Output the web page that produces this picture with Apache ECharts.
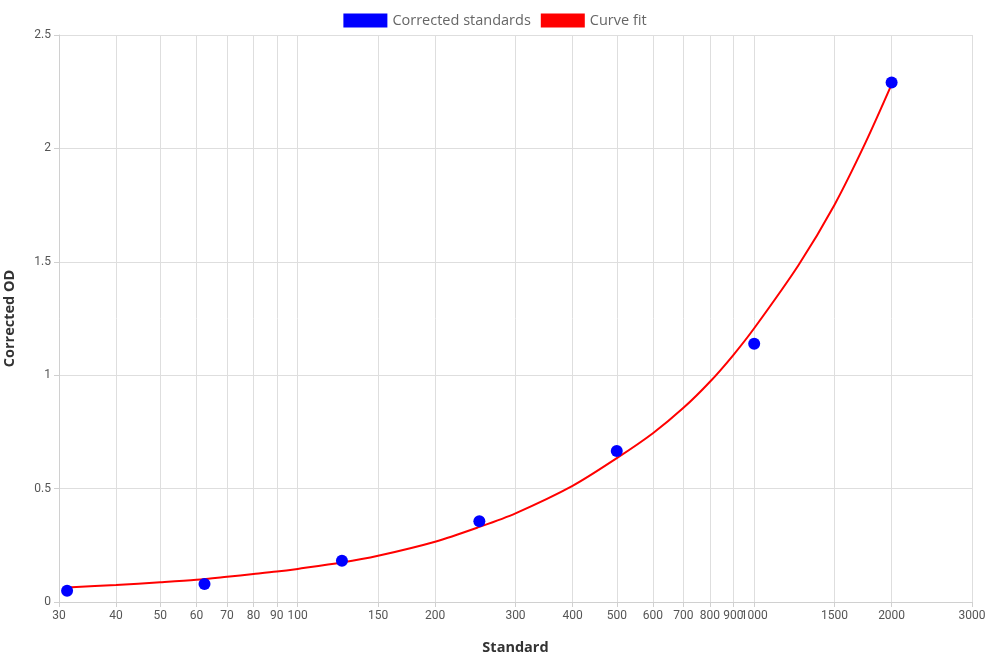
<!DOCTYPE html>
<html>
<head>
<meta charset="utf-8">
<script src="https://cdn.jsdelivr.net/npm/echarts@6/dist/echarts.min.js"></script>
<style>html,body{margin:0;padding:0;background:#fff}#c{width:990px;height:660px}</style>
</head>
<body>
<div id="c"></div>
<script>
const standards = [31.25, 62.5, 125, 250, 500, 1000, 2000];
const correctedOD = [0.050, 0.079, 0.182, 0.356, 0.666, 1.139, 2.291];
const fitX = [31.25, 40, 50, 60, 70, 80, 90, 100, 125, 150, 200, 250, 300, 400, 500, 600, 700, 800, 900, 1000, 1250, 1500, 1750, 2000];
const fitY = [0.064, 0.075, 0.087, 0.098, 0.111, 0.123, 0.134, 0.146, 0.174, 0.204, 0.266, 0.331, 0.391, 0.512, 0.634, 0.744, 0.856, 0.971, 1.089, 1.207, 1.485, 1.752, 2.022, 2.282];
const xTicks = [30, 40, 50, 60, 70, 80, 90, 100, 150, 200, 300, 400, 500, 600, 700, 800, 900, 1000, 1500, 2000, 3000];

const chart = echarts.init(document.getElementById('c'));
chart.setOption({
  animation: false,
  legend: {
    top: 8, left: 'center',
    itemWidth: 44, itemHeight: 14, itemGap: 10,
    textStyle: { color: '#666', fontSize: 14.5, fontFamily: 'Open Sans' },
    data: [
      { name: 'Corrected standards', icon: 'rect', itemStyle: { color: '#0000ff', opacity: 1 } },
      { name: 'Curve fit', icon: 'rect', itemStyle: { color: '#ff0000', opacity: 1 } }
    ]
  },
  grid: { left: 59, right: 18, top: 35, bottom: 58, containLabel: false, outerBoundsMode: 'none' },
  xAxis: {
    type: 'log', min: 30, max: 3000, logBase: 10,
    name: 'Standard', nameLocation: 'middle', nameGap: 38,
    nameTextStyle: { color: '#333', fontWeight: 'bold', fontSize: 14.5, fontFamily: 'Open Sans' },
    axisLine: { show: true, lineStyle: { color: '#d0d0d0' } },
    axisTick: { show: true, length: 5, lineStyle: { color: '#d0d0d0' }, customValues: xTicks },
    axisLabel: { customValues: xTicks, color: '#555', fontSize: 12, fontFamily: 'Roboto', margin: 8, formatter: v => String(Math.round(v)) },
    splitLine: { show: true, lineStyle: { color: '#dedede' } },
    minorTick: { show: false }
  },
  yAxis: {
    type: 'value', min: 0, max: 2.5, interval: 0.5,
    name: 'Corrected OD', nameLocation: 'middle', nameGap: 42, nameRotate: 90,
    nameTextStyle: { color: '#333', fontWeight: 'bold', fontSize: 14.5, fontFamily: 'Open Sans' },
    axisLine: { show: true, lineStyle: { color: '#d0d0d0' } },
    axisTick: { show: true, length: 5, lineStyle: { color: '#d0d0d0' } },
    axisLabel: { color: '#555', fontSize: 12, fontFamily: 'Roboto', margin: 8 },
    splitLine: { show: true, lineStyle: { color: '#dedede' } }
  },
  series: [
    {
      name: 'Curve fit', type: 'line', smooth: 0.3, showSymbol: false,
      lineStyle: { color: '#ff0000', width: 2 }, itemStyle: { color: '#ff0000', opacity: 1 },
      data: fitX.map((x, i) => [x, fitY[i]]), z: 2
    },
    {
      name: 'Corrected standards', type: 'scatter', symbolSize: 12,
      itemStyle: { color: '#0000ff', opacity: 1 },
      data: standards.map((x, i) => [x, correctedOD[i]]), z: 3
    }
  ]
});
</script>
</body>
</html>
